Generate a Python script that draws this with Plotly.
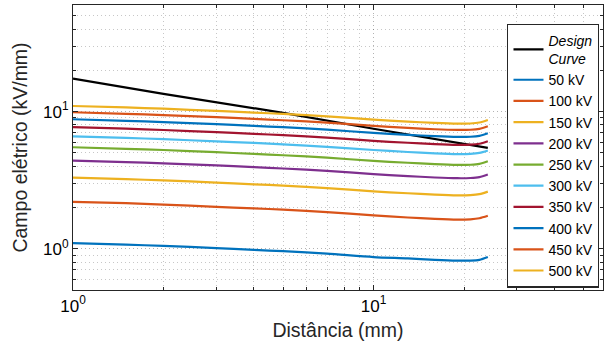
import math
import plotly.graph_objects as go

# ---- data ----
distance = [1, 1.5, 2, 3, 4, 5, 7, 10, 13, 16, 19, 21, 22.5, 24]

design_x = [1, 2, 5, 10, 24]
design_y = [17.4, 13.5, 9.8, 7.5, 5.45]

e_50 = [1.10, 1.07, 1.05, 1.01, 0.98, 0.96, 0.92, 0.87, 0.85, 0.83, 0.82, 0.82, 0.83, 0.87]
e_100 = [2.20, 2.15, 2.10, 2.02, 1.97, 1.93, 1.85, 1.75, 1.69, 1.65, 1.63, 1.64, 1.67, 1.74]
e_150 = [3.30, 3.22, 3.15, 3.04, 2.95, 2.89, 2.77, 2.62, 2.54, 2.48, 2.45, 2.46, 2.50, 2.61]
e_200 = [4.40, 4.29, 4.20, 4.05, 3.94, 3.85, 3.70, 3.50, 3.39, 3.31, 3.27, 3.28, 3.33, 3.48]
e_250 = [5.50, 5.36, 5.25, 5.06, 4.92, 4.81, 4.62, 4.37, 4.24, 4.14, 4.09, 4.10, 4.16, 4.35]
e_300 = [6.60, 6.44, 6.30, 6.07, 5.91, 5.78, 5.54, 5.25, 5.08, 4.96, 4.90, 4.92, 5.00, 5.21]
e_350 = [7.70, 7.51, 7.35, 7.08, 6.89, 6.74, 6.47, 6.12, 5.93, 5.79, 5.72, 5.74, 5.83, 6.08]
e_400 = [8.80, 8.58, 8.40, 8.10, 7.88, 7.70, 7.39, 7.00, 6.78, 6.62, 6.54, 6.56, 6.66, 6.95]
e_450 = [9.90, 9.65, 9.45, 9.11, 8.86, 8.66, 8.32, 7.87, 7.62, 7.44, 7.36, 7.38, 7.49, 7.82]
e_500 = [11.0, 10.73, 10.51, 10.12, 9.85, 9.63, 9.24, 8.75, 8.47, 8.27, 8.17, 8.20, 8.33, 8.69]

series_names = ["50 kV", "100 kV", "150 kV", "200 kV", "250 kV",
                "300 kV", "350 kV", "400 kV", "450 kV", "500 kV"]
series_values = [e_50, e_100, e_150, e_200, e_250, e_300, e_350, e_400, e_450, e_500]
series_colors = ["#0072BD", "#D95319", "#EDB120", "#7E2F8E", "#77AC30",
                 "#4DBEEE", "#A2142F", "#0072BD", "#D95319", "#EDB120"]

x_major = [1, 10]
x_major_text = ["10<sup>0</sup>", "10<sup>1</sup>"]
x_minor = [2, 3, 4, 5, 6, 7, 8, 9, 20, 30, 40, 50]
y_major = [1, 10]
y_major_text = ["10<sup>0</sup>", "10<sup>1</sup>"]
y_minor = [0.5, 0.6, 0.7, 0.8, 0.9, 2, 3, 4, 5, 6, 7, 8, 9, 20, 30, 40, 50, 60]

FONT = "Liberation Sans, Arial, sans-serif"

fig = go.Figure()
fig.add_trace(go.Scatter(
    x=design_x, y=design_y, mode="lines",
    name="<i>Design</i><br><i>Curve</i>",
    line=dict(color="black", width=2.2),
))
for name, vals, col in zip(series_names, series_values, series_colors):
    fig.add_trace(go.Scatter(
        x=distance, y=vals, mode="lines", name=name,
        line=dict(color=col, width=2.2, shape="spline", smoothing=0.8),
    ))

axis_common = dict(
    showline=True, linecolor="#262626", linewidth=1.2, mirror="ticks",
    ticks="inside", ticklen=5, tickcolor="#262626", tickwidth=1,
    showgrid=True, gridcolor="rgba(0,0,0,0.3)", griddash="1px,3px", gridwidth=1,
    zeroline=False, tickmode="array",
    tickfont=dict(family=FONT, size=17, color="#000"),
)
minor_common = dict(tickmode="array", ticks="inside", ticklen=3,
                    tickcolor="#262626", showgrid=True,
                    gridcolor="rgba(0,0,0,0.22)", griddash="1px,3px", gridwidth=1)

fig.update_xaxes(
    type="log", range=[0, math.log10(58)],
    tickvals=x_major, ticktext=x_major_text,
    title=dict(text="Distância (mm)", font=dict(family=FONT, size=19.5, color="#262626"), standoff=8),
    minor=dict(tickvals=x_minor, **minor_common),
    **axis_common,
)
fig.update_yaxes(
    type="log", range=[math.log10(0.5), math.log10(60)],
    tickvals=y_major, ticktext=y_major_text,
    title=dict(text="Campo elétrico (kV/mm)", font=dict(family=FONT, size=19.5, color="#262626"), standoff=10),
    minor=dict(tickvals=y_minor, **minor_common),
    **axis_common,
)

fig.update_layout(
    width=605, height=348,
    margin=dict(l=73, r=2, t=5, b=58),
    paper_bgcolor="white", plot_bgcolor="white",
    font=dict(family=FONT, color="#000"),
    legend=dict(
        x=0.993, xanchor="right", y=0.935, yanchor="top",
        bgcolor="white", bordercolor="#262626", borderwidth=1.2,
        font=dict(family=FONT, size=14, color="#000"),
        tracegroupgap=0,
    ),
    showlegend=True,
)

fig.write_html("out.html", config={"displayModeBar": False},
               post_script="document.body.style.margin='0';")
